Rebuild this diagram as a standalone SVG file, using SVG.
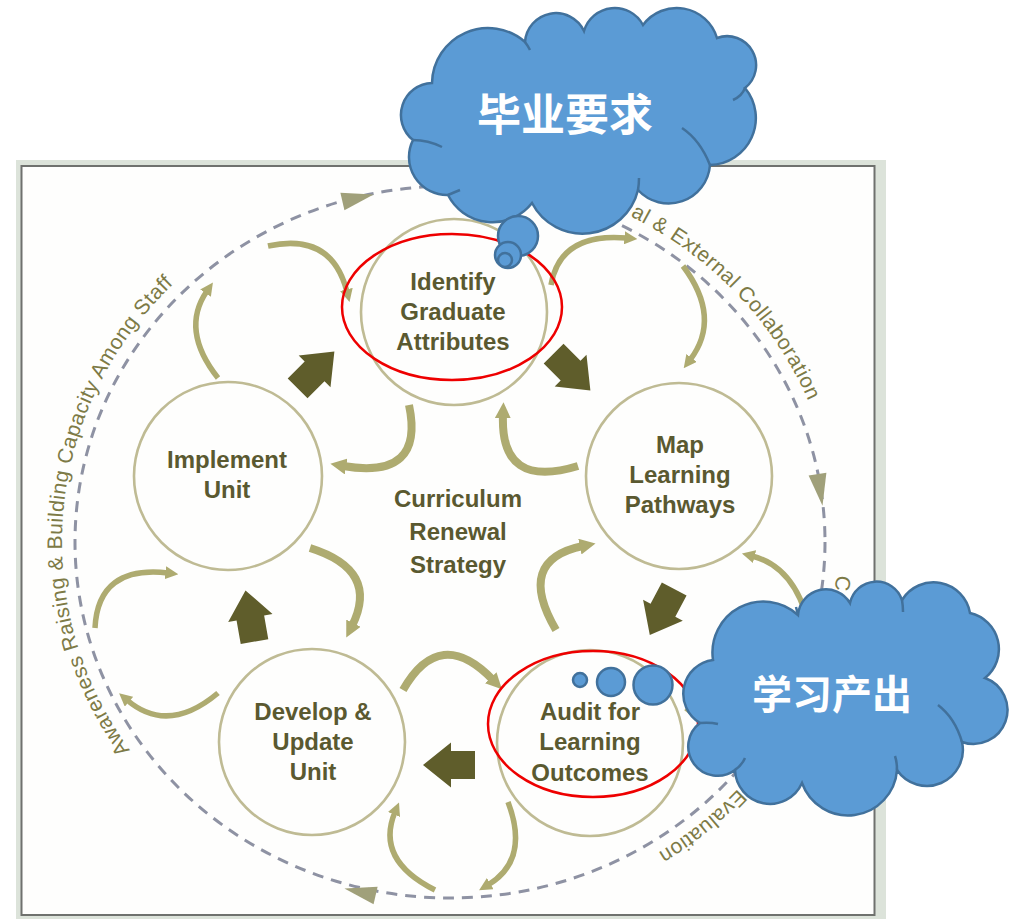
<svg xmlns="http://www.w3.org/2000/svg" width="1017" height="919" viewBox="0 0 1017 919">
<style>
.node circle{fill:none;stroke:#bfbb94;stroke-width:2.6}
.lbl{font-family:"Liberation Sans",Arial,sans-serif;font-weight:bold;font-size:24px;fill:#5a5930;text-anchor:middle}
.ring{font-family:"Liberation Sans",Arial,sans-serif;font-size:21px;fill:#7d7a46;letter-spacing:0.5px}
.arc{fill:none;stroke:#aeab70;stroke-linecap:butt}
.in{stroke-width:8;marker-end:url(#ahIn)}
.out{stroke-width:5.5;marker-end:url(#ahOut)}
.blk{fill:#5f5d2b}
.tri{fill:#a0a07a}
.cloud{fill:#5b9bd5;stroke:#41719c;stroke-width:2.5}
.cl{fill:none;stroke:#41719c;stroke-width:2.5}
.cjk{font-family:"Noto Sans CJK SC",sans-serif;font-weight:bold;fill:#ffffff;text-anchor:middle}
.red{fill:none;stroke:#ee0000;stroke-width:2.5}
</style>
<defs>
<marker id="ahIn" viewBox="0 0 10 10" refX="2" refY="5" markerWidth="16" markerHeight="16" markerUnits="userSpaceOnUse" orient="auto"><path d="M0,0 L10,5 L0,10 Z" fill="#aeab70"/></marker>
<marker id="ahOut" viewBox="0 0 10 10" refX="2" refY="5" markerWidth="13" markerHeight="13" markerUnits="userSpaceOnUse" orient="auto"><path d="M0,0 L10,5 L0,10 Z" fill="#aeab70"/></marker>
<path id="blockArrow" d="M-26,-14 L-2,-14 L-2,-22.5 L26,0 L-2,22.5 L-2,14 L-26,14 Z"/>
<path id="ringPath" d="M450,910 A388,368 0 0 1 62,542 A388,368 0 0 1 450,174 A388,368 0 0 1 838,542 A388,368 0 0 1 450,910"/>
</defs>

<g id="frame">
<rect x="16" y="160" width="870" height="759" fill="#dce3da"/>
<rect x="21.5" y="166" width="853" height="749" fill="#fefefd" stroke="#6f716e" stroke-width="2"/>
</g>

<g id="outer-cycle">
<ellipse cx="450" cy="542" rx="375" ry="356" fill="none" stroke="#8e92a3" stroke-width="3" stroke-dasharray="11 8"/>
<path class="tri" d="M16,0 L-16,-9 L-16,9 Z" transform="translate(358,198) rotate(-13)"/>
<path class="tri" d="M16,0 L-16,-9 L-16,9 Z" transform="translate(820,490) rotate(81)"/>
<path class="tri" d="M16,0 L-16,-9 L-16,9 Z" transform="translate(360,892) rotate(193)"/>
<text class="ring"><textPath href="#ringPath" startOffset="627" text-anchor="middle">Awareness Raising &amp; Building Capacity Among Staff</textPath></text>
<text class="ring"><textPath href="#ringPath" startOffset="1505" text-anchor="middle">al &amp; External Collaboration</textPath></text>
<text class="ring"><textPath href="#ringPath" startOffset="1814">C</textPath></text>
<text class="ring"><textPath href="#ringPath" startOffset="2105" text-anchor="middle">Evaluation</textPath></text>
</g>

<g id="connectors">
<path class="arc out" d="M268,246 Q332,232 347,292"/>
<path class="arc out" d="M551,285 Q560,232 627,238"/>
<path class="arc out" d="M683,266 Q722,318 690,360"/>
<path class="arc out" d="M812,640 Q800,568 752,556"/>
<path class="arc" stroke-width="5.5" d="M686,708 Q740,752 800,716"/>
<path class="arc in" d="M556,630 Q515,560 583,546"/>
<path class="arc in" d="M578,466 Q500,490 503,415"/>
<path class="arc in" d="M409,405 Q425,480 343,466"/>
<path class="arc out" d="M218,378 Q180,330 207,291"/>
<path class="arc in" d="M310,548 Q380,570 352,626"/>
<path class="arc out" d="M95,628 Q98,565 168,573"/>
<path class="arc out" d="M218,693 Q168,735 127,700"/>
<path class="arc in" d="M403,690 Q440,625 493,680"/>
<path class="arc out" d="M435,890 Q375,860 395,812"/>
<path class="arc out" d="M508,802 Q530,860 488,885"/>
<use href="#blockArrow" class="blk" transform="translate(316,370) rotate(-45)"/>
<use href="#blockArrow" class="blk" transform="translate(572,372) rotate(45)"/>
<use href="#blockArrow" class="blk" transform="translate(662,612) rotate(118)"/>
<use href="#blockArrow" class="blk" transform="translate(449,765) rotate(180)"/>
<use href="#blockArrow" class="blk" transform="translate(250,616) rotate(-100)"/>
</g>

<g id="node-identify" class="node">
<circle cx="454" cy="312" r="93"/>
<text class="lbl" x="453" y="290">Identify</text>
<text class="lbl" x="453" y="320">Graduate</text>
<text class="lbl" x="453" y="350">Attributes</text>
</g>
<g id="node-map" class="node">
<circle cx="679" cy="476" r="93"/>
<text class="lbl" x="680" y="453">Map</text>
<text class="lbl" x="680" y="483">Learning</text>
<text class="lbl" x="680" y="513">Pathways</text>
</g>
<g id="node-audit" class="node">
<circle cx="590" cy="743" r="93"/>
<text class="lbl" x="590" y="720">Audit for</text>
<text class="lbl" x="590" y="750">Learning</text>
<text class="lbl" x="590" y="781">Outcomes</text>
</g>
<g id="node-develop" class="node">
<circle cx="312" cy="742" r="93"/>
<text class="lbl" x="313" y="720">Develop &amp;</text>
<text class="lbl" x="313" y="750">Update</text>
<text class="lbl" x="313" y="780">Unit</text>
</g>
<g id="node-implement" class="node">
<circle cx="228" cy="476" r="94"/>
<text class="lbl" x="227" y="468">Implement</text>
<text class="lbl" x="227" y="498">Unit</text>
</g>
<g id="node-center">
<text class="lbl" x="458" y="507">Curriculum</text>
<text class="lbl" x="458" y="540">Renewal</text>
<text class="lbl" x="458" y="573">Strategy</text>
</g>

<g id="highlight-1"><ellipse class="red" cx="452" cy="307" rx="110" ry="73"/></g>
<g id="highlight-2"><ellipse class="red" cx="593" cy="724" rx="105" ry="73"/></g>

<g id="cloud-graduate">
<path class="cloud" d="M432,83 A56,56 0 0 1 525,42 A31,31 0 0 1 584,31 A32,32 0 0 1 643,25 A42,42 0 0 1 717,38 A29,29 0 0 1 745,88 A47,47 0 0 1 710,165 A41.5,41.5 0 0 1 638,190 A57,57 0 0 1 532,203 A50,50 0 0 1 448,195 A38,38 0 0 1 413,140 A32,32 0 0 1 432,83 Z"/>
<path class="cl" d="M413,140 Q428,140 442,147 M710,165 Q700,140 682,128 M745,88 Q742,96 733,100 M525,42 Q528,46 530,50 M638,190 Q639,184 639,178 M448,195 Q455,192 460,190"/>
<circle class="cloud" cx="518" cy="236" r="20"/>
<circle class="cloud" cx="508" cy="255" r="13"/>
<circle class="cloud" cx="505" cy="260" r="7"/>
<text class="cjk" x="565" y="131" font-size="44">毕业要求</text>
</g>

<g id="cloud-outcomes">
<path class="cloud" d="M713,660 A51,51 0 0 1 798,615 A28,28 0 0 1 850,603 A27,27 0 0 1 902,600 A37,37 0 0 1 970,613 A37,37 0 0 1 985,678 A34,34 0 0 1 962,742 A36,36 0 0 1 897,770 A49,49 0 0 1 802,783 A35,35 0 0 1 735,770 A29,29 0 0 1 700,723 A34,34 0 0 1 713,660 Z"/>
<path class="cl" d="M700,723 Q710,722 718,724 M962,742 Q955,718 938,705 M798,615 Q797,611 796,607 M735,770 Q742,765 745,758 M897,770 Q897,762 895,756 M902,600 Q903,606 903,612"/>
<circle class="cloud" cx="580" cy="680" r="7"/>
<circle class="cloud" cx="611" cy="682" r="14"/>
<circle class="cloud" cx="653" cy="685" r="19.5"/>
<text class="cjk" x="832" y="709" font-size="40">学习产出</text>
</g>
</svg>
